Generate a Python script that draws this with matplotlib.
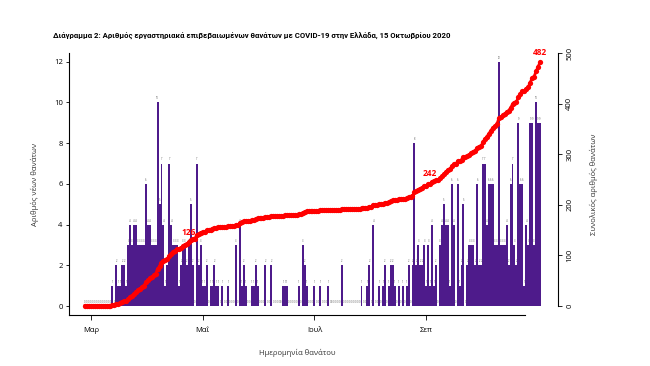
import numpy as np
import matplotlib.pyplot as plt

plt.rcParams['font.family'] = ['Open Sans', 'DejaVu Sans']

# daily new deaths (by date of death), one value per day
deaths = [
    0, 0, 0, 0, 0, 0, 0, 0, 0, 0, 0, 0, 0, 0,
    1, 0, 2, 1, 1, 2, 2, 1, 3, 4,
    3, 4, 4, 3, 3, 3, 3, 6, 4, 4,
    3, 3, 3, 10, 5, 7, 4, 1, 2, 7,
    4, 3, 3, 3, 1, 2, 3, 3, 2, 3,
    5, 2, 0, 7,
    2, 3, 1, 1, 2, 0, 1, 1, 2, 1,
    1, 0, 1, 0, 0, 1, 0, 0, 0, 3, 0, 4,
    1, 2, 1, 0, 0, 1, 1, 2, 1, 0,
    0, 0, 2, 0, 0, 2, 0, 0, 0, 0, 0, 1, 1, 1, 0, 0, 0, 0, 0, 1, 0,
    3, 2, 1, 0, 0, 0, 1, 0, 0, 1, 0, 0, 0, 1, 0, 0, 0, 0, 0, 0,
    2, 0, 0, 0, 0, 0, 0, 0, 0, 0, 1, 0, 0, 1, 2,
    0, 4, 0, 0, 1, 0, 1, 2, 0, 1, 2, 2, 1, 0, 1, 0, 1, 0, 1, 2, 0, 2,
    8,
    2, 3, 2, 2, 3, 1, 3, 1,
    4, 1, 2, 0, 3, 4, 5, 4, 4, 1,
    6, 4, 0, 6, 1, 2, 5, 0, 2, 3,
    3, 3, 2, 6, 2, 2, 7, 7, 4, 6,
    6, 6, 3, 3, 12, 3, 3, 3, 4, 2,
    6, 7, 3, 2, 9, 6, 6, 1, 4, 3,
    9, 9, 3, 10, 9, 9,
]
month_ticks = [3, 60, 117, 174]
month_labels = ['Μαρ', 'Μαΐ', 'Ιουλ', 'Σεπ']
note_days = [53, 176, len(deaths) - 1]

days = np.arange(len(deaths))
total = np.cumsum(deaths)

purple = '#4e1b8b'

fig = plt.figure(figsize=(6.5, 3.66), dpi=100)
ax = fig.add_axes([69 / 650, 1 - 315 / 366, (558 - 69) / 650, (315 - 53) / 366])

ax.bar(days, deaths, width=1.0, color=purple, linewidth=0, zorder=2)
for d, v in zip(days, deaths):
    ax.text(d, v + 0.1, str(v), fontsize=1.8, ha='center', va='bottom',
            color='#555555', zorder=3)

ax.set_xlim(-8.16, 241.2)
ax.set_ylim(-0.442, 12.43)
ax.set_yticks(range(0, 13, 2))
ax.set_xticks(month_ticks)
ax.set_xticklabels(month_labels)
ax.tick_params(axis='y', labelsize=5.5, length=2.5, width=0.6, pad=2)
ax.tick_params(axis='x', labelsize=5.5, length=3.5, width=0.6, pad=5)
ax.spines['top'].set_visible(False)
ax.spines['right'].set_visible(False)
ax.spines['left'].set_linewidth(0.8)
ax.spines['bottom'].set_linewidth(0.8)
ax.spines['bottom'].set_bounds(-8.16, 224.4)

ax.set_ylabel('Αριθμός νέων θανάτων', fontsize=5.5, color='#333333')
ax.yaxis.set_label_coords(-0.062, 0.5)
ax.set_xlabel('Ημερομηνία θανάτου', fontsize=5.5, color='#333333')
ax.xaxis.set_label_coords(0.466, -0.13)

# cumulative deaths on the right axis
ax2 = ax.twinx()
ax2.plot(days, total, '-o', color='red', lw=2, ms=3.8, mew=0, zorder=4)
for d in note_days:
    ax2.annotate(str(total[d]), (d, total[d]), xytext=(0, 4), textcoords='offset points',
                 ha='center', va='bottom', color='red', fontsize=6, fontweight='bold')
ax2.set_ylim(-18.4, 500.6)
ax2.set_yticks(range(0, 501, 100))
ax2.set_yticklabels([str(t) for t in range(0, 501, 100)], rotation=90, va='center')
ax2.tick_params(axis='y', labelsize=5.5, length=3, width=0.6, pad=3)
for side in ['top', 'left', 'bottom']:
    ax2.spines[side].set_visible(False)
ax2.spines['right'].set_bounds(0, 500)
ax2.spines['right'].set_linewidth(0.8)
ax2.set_ylabel('Συνολικός αριθμός θανάτων', fontsize=5.5, rotation=90, color='#333333')
ax2.yaxis.set_label_coords(1.065, 0.5)

fig.text(252 / 650, 1 - 36 / 366,
         'Διάγραμμα 2: Αριθμός εργαστηριακά επιβεβαιωμένων θανάτων με COVID-19 στην Ελλάδα, 15 Οκτωβρίου 2020',
         ha='center', va='center', fontsize=5.6, fontweight='bold',
         family=['Roboto', 'DejaVu Sans'])

fig.savefig('out.png', dpi=100)
